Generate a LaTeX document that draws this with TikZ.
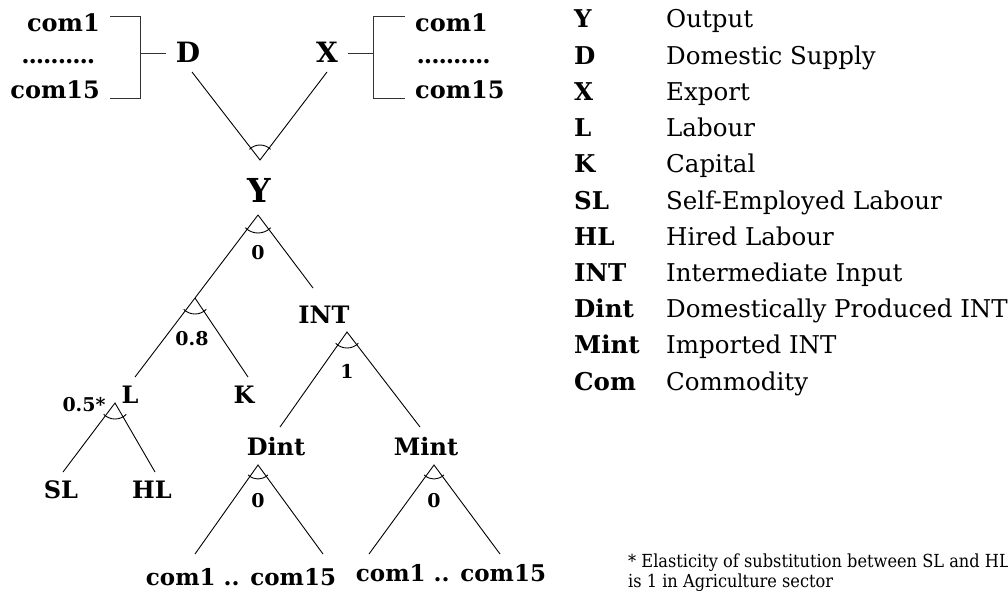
\documentclass[tikz,border=0pt]{standalone}
\usepackage{fontspec}
\setmainfont{DejaVu Serif}
\newfontfamily\footnotefamily[FakeStretch=0.9]{DejaVu Serif}
\newcommand\dotrowtext{\makebox[7.3pt]{.}\makebox[7.3pt]{.}\makebox[7.3pt]{.}\makebox[7.3pt]{.}\makebox[7.3pt]{.}\makebox[7.3pt]{.}\makebox[7.3pt]{.}\makebox[7.3pt]{.}\makebox[7.3pt]{.}\makebox[7.3pt]{.}}
\begin{document}
\begin{tikzpicture}[x=1pt,y=1pt,
  lab/.style={inner sep=0pt, anchor=base, font=\fontsize{24}{28}\selectfont\bfseries},
  biglab/.style={lab, font=\fontsize{28}{32}\selectfont\bfseries},
  ylab/.style={lab, font=\fontsize{33}{40}\selectfont\bfseries},
  comlab/.style={lab, font=\fontsize{23}{28}\selectfont\bfseries},
  num/.style={lab, font=\fontsize{19}{22}\selectfont\bfseries},
  keyb/.style={inner sep=0pt, anchor=base west, font=\fontsize{24.5}{28}\selectfont\bfseries},
  keyr/.style={inner sep=0pt, anchor=base west, font=\fontsize{24.5}{28}\selectfont},
  foot/.style={inner sep=0pt, anchor=base west, font=\footnotefamily\fontsize{18}{22}\selectfont},
  ln/.style={line width=0.9pt, black},
  br/.style={line width=0.9pt, black!80},
]
\useasboundingbox (0,0) rectangle (1008,-607);

% ---------- top: D and X with their commodities ----------
\node[lab, anchor=base east] (lc1) at (100,-32) {com1};
\node[lab, anchor=base east] (ldots) at (95,-64) {\dotrowtext};
\node[lab, anchor=base east] (lc15) at (100,-99) {com15};
\node[biglab] (D) at (188,-63) {D};

\node[lab, anchor=base west] (rc1) at (415,-32) {com1};
\node[lab, anchor=base west] (rdots) at (417,-64) {\dotrowtext};
\node[lab, anchor=base west] (rc15) at (415,-99) {com15};
\node[biglab] (X) at (327,-63) {X};

\coordinate (lbA) at (110,-16);
\coordinate (lbB) at (140,-16);
\coordinate (lbC) at (140,-98);
\coordinate (lbD) at (110,-98);
\coordinate (lbM) at (140,-53);
\coordinate (lbE) at (166,-53);
\draw[br] (lbA) -- (lbB) -- (lbC) -- (lbD);
\draw[br] (lbM) -- (lbE);

\coordinate (rbA) at (405,-16);
\coordinate (rbB) at (373,-16);
\coordinate (rbC) at (373,-98);
\coordinate (rbD) at (405,-98);
\coordinate (rbM) at (373,-53);
\coordinate (rbE) at (348,-53);
\draw[br] (rbA) -- (rbB) -- (rbC) -- (rbD);
\draw[br] (rbM) -- (rbE);

\coordinate (dTop) at (192,-72);
\coordinate (xTop) at (327,-72);
\coordinate (dxApex) at (260,-160);
\draw[ln] (dTop) -- (dxApex) -- (xTop);
\draw[ln] (dxApex) ++(45:15) arc[start angle=45, end angle=135, radius=15];

% ---------- Y ----------
\node[ylab] (Y) at (259,-202) {Y};
\coordinate (yApex) at (258,-215);
\coordinate (lkApex) at (195,-298);
\coordinate (lEnd) at (135,-377);
\coordinate (intEnd) at (313,-288);
\draw[ln] (yApex) -- (lkApex) -- (lEnd);
\draw[ln] (yApex) -- (intEnd);
\draw[ln] (yApex) ++(225:18) arc[start angle=225, end angle=315, radius=18];
\node[num] (y0) at (258,-259) {0};

% ---------- L / K ----------
\coordinate (kEnd) at (248,-377);
\draw[ln] (lkApex) -- (kEnd);
\draw[ln] (lkApex) ++(225:16) arc[start angle=225, end angle=315, radius=16];
\node[num] (lk08) at (192,-345) {0.8};
\node[lab] (L) at (130,-403) {L};
\node[lab] (K) at (244,-403) {K};

% ---------- SL / HL ----------
\coordinate (slApex) at (115,-403);
\coordinate (slEnd) at (63,-472);
\coordinate (hlEnd) at (155,-472);
\draw[ln] (slEnd) -- (slApex) -- (hlEnd);
\draw[ln] (slApex) ++(225:16) arc[start angle=225, end angle=315, radius=16];
\node[num] (l05) at (84,-411) {0.5*};
\node[lab] (SL) at (61,-498) {SL};
\node[lab] (HL) at (152,-498) {HL};

% ---------- INT ----------
\node[lab] (INT) at (324,-323) {INT};
\coordinate (intApex) at (347,-332);
\coordinate (dintEnd) at (280,-427);
\coordinate (mintEnd) at (420,-427);
\draw[ln] (dintEnd) -- (intApex) -- (mintEnd);
\draw[ln] (intApex) ++(225:16) arc[start angle=225, end angle=315, radius=16];
\node[num] (int1) at (347,-378) {1};

% ---------- Dint / Mint ----------
\node[lab] (Dint) at (276,-455) {Dint};
\node[lab] (Mint) at (426,-455) {Mint};

\coordinate (dApex) at (258,-465);
\coordinate (dL) at (195,-554);
\coordinate (dR) at (323,-554);
\draw[ln] (dL) -- (dApex) -- (dR);
\draw[ln] (dApex) ++(225:14) arc[start angle=225, end angle=315, radius=14];
\node[num] (d0) at (258,-507) {0};

\coordinate (mApex) at (434,-465);
\coordinate (mL) at (369,-554);
\coordinate (mR) at (500,-554);
\draw[ln] (mL) -- (mApex) -- (mR);
\draw[ln] (mApex) ++(225:14) arc[start angle=225, end angle=315, radius=14];
\node[num] (m0) at (434,-507) {0};

\node[comlab] (dcom) at (241,-585) {com1 .. com15};
\node[comlab] (mcom) at (451,-581) {com1 .. com15};

% ---------- legend ----------
\foreach \k/\t [count=\i from 0] in {Y/Output, D/Domestic Supply, X/Export, L/Labour, K/Capital, SL/Self-Employed Labour, HL/Hired Labour, INT/Intermediate Input, Dint/Domestically Produced INT, Mint/Imported INT, Com/Commodity}{
  \node[keyb] (key\i) at (574,{-28-36.2*\i}) {\k};
  \node[keyr] (desc\i) at (666,{-28-36.2*\i}) {\t};
}

% ---------- footnote ----------
\node[foot] (fn1) at (628,-567) {* Elasticity of substitution between SL and HL};
\node[foot] (fn2) at (628,-587) {is 1 in Agriculture sector};
\end{tikzpicture}
\end{document}
